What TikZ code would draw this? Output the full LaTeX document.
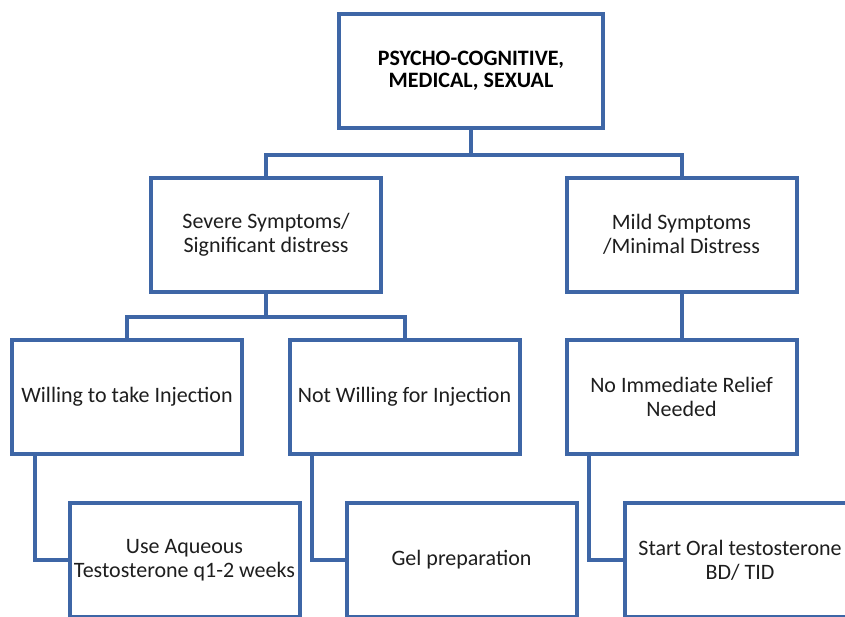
\documentclass[tikz,border=0pt]{standalone}
\usepackage{fontspec}
\setmainfont{Carlito}
\usepackage{xcolor}
\definecolor{boxblue}{RGB}{62,102,166}
\definecolor{txtgrey}{RGB}{30,30,30}

\begin{document}
\begin{tikzpicture}[
    x=1pt,
    y=-1pt,
    box/.style={
        draw=boxblue,
        line width=4pt,
        fill=white,
        align=center,
        minimum width=230pt,
        minimum height=114pt,
        inner sep=1pt,
        text=txtgrey,
        font=\fontsize{22}{24}\selectfont
    },
    rootbox/.style={
        box,
        minimum width=264pt,
        text=black,
        font=\bfseries\fontsize{22}{22}\selectfont
    },
    link/.style={draw=boxblue, line width=4pt}
]
\useasboundingbox (0,0) rectangle (845,616);

\node[rootbox] (root) at (471,71) {PSYCHO-COGNITIVE,\\MEDICAL, SEXUAL};
\node[box] (severe) at (266,234.5) {Severe Symptoms/\\Significant distress};
\node[box] (mild) at (681.5,234.5) {Mild Symptoms\\/Minimal Distress};
\node[box] (willing) at (127,397) {Willing to take Injection};
\node[box] (notwilling) at (404.5,397) {Not Willing for Injection};
\node[box] (norelief) at (681.5,397) {No Immediate Relief\\Needed};
\node[box] (aqueous) at (184.5,560) {Use Aqueous\\Testosterone q1-2 weeks};
\node[box] (gel) at (461.5,560) {Gel preparation};
\node[box] (oral) at (740,560) {Start Oral testosterone\\BD/ TID};

% tree links
\draw[link] (root.south) -- ++(0,25) -| (severe.north);
\draw[link] (root.south) -- ++(0,25) -| (mild.north);
\draw[link] (severe.south) -- ++(0,23) -| (willing.north);
\draw[link] (severe.south) -- ++(0,23) -| (notwilling.north);
\draw[link] (mild.south) -- (norelief.north);

% side elbows
\draw[link] ([xshift=25pt]willing.south west) |- (aqueous.west);
\draw[link] ([xshift=24pt]notwilling.south west) |- (gel.west);
\draw[link] ([xshift=24pt]norelief.south west) |- (oral.west);
\end{tikzpicture}
\end{document}
